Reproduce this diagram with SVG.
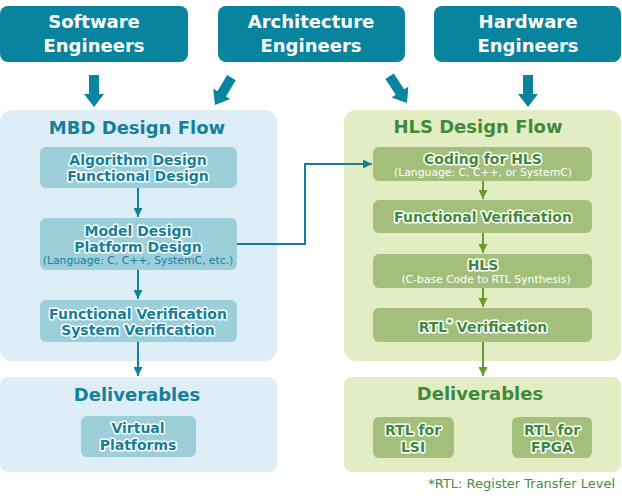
<svg xmlns="http://www.w3.org/2000/svg" width="622" height="501" viewBox="0 0 622 501">
<defs>
<style>
.eng{fill:#08849f}
.engt{font-family:"DejaVu Sans",Verdana,sans-serif;font-weight:bold;font-size:18px;fill:#fff;text-anchor:middle}
.bigarrow{fill:#08849f}
.mbdp{fill:#ddeef6}
.hlsp{fill:#e3edc4}
.mbdb{fill:#9ccfd9}
.hlsb{fill:#a3bf7b}
.ttl{font-family:"DejaVu Sans",Verdana,sans-serif;font-weight:bold;font-size:18px;text-anchor:middle}
.tb{fill:#14809b}
.tg{fill:#3f8a3a}
.bt{font-family:"DejaVu Sans",Verdana,sans-serif;font-weight:bold;font-size:14px;text-anchor:middle;stroke:#fff;stroke-width:3;stroke-linejoin:round;paint-order:stroke}
.sub{font-family:"DejaVu Sans",Verdana,sans-serif;font-size:10.8px;text-anchor:middle}
.cb{stroke:#14809b;stroke-width:2;fill:none}
.cg{stroke:#6a9a2c;stroke-width:2;fill:none}
</style>
<marker id="ab" viewBox="0 0 10 10" refX="10" refY="5" markerWidth="4.5" markerHeight="4.5" orient="auto" markerUnits="strokeWidth"><path d="M0,0 L10,5 L0,10 Z" fill="#14809b"/></marker>
<marker id="ag" viewBox="0 0 10 10" refX="10" refY="5" markerWidth="4.5" markerHeight="4.5" orient="auto" markerUnits="strokeWidth"><path d="M0,0 L10,5 L0,10 Z" fill="#6a9a2c"/></marker>
<path id="darr" d="M-5,-32 L5,-32 L5,-13 L10,-13 L0,0 L-10,-13 L-5,-13 Z"/>
</defs>

<g id="software-engineers">
<rect class="eng" x="0" y="6" width="188" height="56" rx="8"/>
<text class="engt" x="94" y="28">Software</text>
<text class="engt" x="94" y="52">Engineers</text>
</g>
<g id="architecture-engineers">
<rect class="eng" x="218" y="6" width="187" height="56" rx="8"/>
<text class="engt" x="311" y="28">Architecture</text>
<text class="engt" x="311" y="52">Engineers</text>
</g>
<g id="hardware-engineers">
<rect class="eng" x="434" y="6" width="187" height="56" rx="8"/>
<text class="engt" x="528" y="28">Hardware</text>
<text class="engt" x="528" y="52">Engineers</text>
</g>

<g id="mbd-flow">
<rect class="mbdp" x="0" y="110" width="277" height="251" rx="12"/>
<text class="ttl tb" x="137" y="134">MBD Design Flow</text>
</g>
<g id="algorithm-design">
<rect class="mbdb" x="40" y="147" width="197" height="41" rx="6"/>
<text class="bt tb" x="138" y="165">Algorithm Design</text>
<text class="bt tb" x="138" y="181">Functional Design</text>
</g>
<g id="model-design">
<rect class="mbdb" x="40" y="218" width="197" height="52" rx="6"/>
<text class="bt tb" x="138" y="236">Model Design</text>
<text class="bt tb" x="138" y="252">Platform Design</text>
<text class="sub tb" x="138" y="264">(Language: C, C++, SystemC, etc.)</text>
</g>
<g id="functional-verification-mbd">
<rect class="mbdb" x="40" y="300" width="197" height="42" rx="6"/>
<text class="bt tb" x="138" y="319">Functional Verification</text>
<text class="bt tb" x="138" y="335">System Verification</text>
</g>

<g id="hls-flow">
<rect class="hlsp" x="344" y="110" width="277" height="251" rx="12"/>
<text class="ttl tg" x="478" y="133">HLS Design Flow</text>
</g>
<g id="coding-for-hls">
<rect class="hlsb" x="373" y="147" width="219" height="34" rx="6"/>
<text class="bt tg" x="483" y="164">Coding for HLS</text>
<text class="sub" fill="#fff" x="483" y="176">(Language: C, C++, or SystemC)</text>
</g>
<g id="functional-verification-hls">
<rect class="hlsb" x="373" y="200" width="219" height="33" rx="6"/>
<text class="bt tg" x="483" y="222">Functional Verification</text>
</g>
<g id="hls">
<rect class="hlsb" x="373" y="254" width="219" height="34" rx="6"/>
<text class="bt tg" x="483" y="270">HLS</text>
<text class="sub" fill="#fff" x="486" y="283">(C-base Code to RTL Synthesis)</text>
</g>
<g id="rtl-verification">
<rect class="hlsb" x="373" y="308" width="219" height="34" rx="6"/>
<text class="bt tg" x="483" y="332">RTL<tspan font-size="9px" dy="-6">*</tspan><tspan dy="6"> Verification</tspan></text>
</g>

<g id="deliverables-mbd">
<rect class="mbdp" x="0" y="377" width="277" height="95" rx="8"/>
<text class="ttl tb" x="137" y="401">Deliverables</text>
</g>
<g id="virtual-platforms">
<rect class="mbdb" x="81" y="416" width="115" height="41" rx="6"/>
<text class="bt tb" x="138" y="433">Virtual</text>
<text class="bt tb" x="138" y="450">Platforms</text>
</g>
<g id="deliverables-hls">
<rect class="hlsp" x="344" y="377" width="277" height="95" rx="8"/>
<text class="ttl tg" x="480" y="400">Deliverables</text>
</g>
<g id="rtl-lsi">
<rect class="hlsb" x="373" y="417" width="81" height="41" rx="6"/>
<text class="bt tg" x="413" y="435">RTL for</text>
<text class="bt tg" x="413" y="452">LSI</text>
</g>
<g id="rtl-fpga">
<rect class="hlsb" x="512" y="417" width="80" height="41" rx="6"/>
<text class="bt tg" x="552" y="435">RTL for</text>
<text class="bt tg" x="552" y="452">FPGA</text>
</g>

<text id="footnote" x="615" y="488" font-family="'DejaVu Sans',Verdana,sans-serif" font-size="13px" fill="#4a8a45" text-anchor="end">*RTL: Register Transfer Level</text>

<g id="connectors">
<use href="#darr" class="bigarrow" transform="translate(94,107)"/>
<use href="#darr" class="bigarrow" transform="translate(215,105) rotate(31)"/>
<use href="#darr" class="bigarrow" transform="translate(407,103) rotate(-33)"/>
<use href="#darr" class="bigarrow" transform="translate(528,107)"/>
<path class="cb" d="M138,188 V217" marker-end="url(#ab)"/>
<path class="cb" d="M138,270 V299" marker-end="url(#ab)"/>
<path class="cb" d="M138,342 V376" marker-end="url(#ab)"/>
<path class="cb" d="M237,244 H305 V164 H372" marker-end="url(#ab)"/>
<path class="cg" d="M483,181 V199" marker-end="url(#ag)"/>
<path class="cg" d="M483,233 V253" marker-end="url(#ag)"/>
<path class="cg" d="M483,288 V307" marker-end="url(#ag)"/>
<path class="cg" d="M483,342 V376" marker-end="url(#ag)"/>
</g>
</svg>
